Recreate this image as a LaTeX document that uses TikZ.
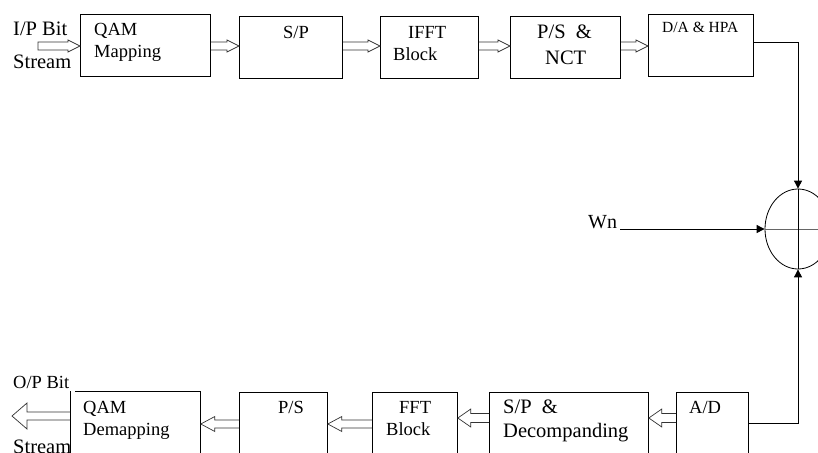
\documentclass[tikz,border=0pt]{standalone}
\usepackage{fontspec}
\setmainfont{Liberation Serif}
\usetikzlibrary{calc,arrows.meta,shapes.geometric}
\tikzset{
  blk/.style={draw=black, line width=0.8pt, anchor=north west, inner sep=0pt},
  lbl/.style={anchor=base west, inner sep=0pt, font=\fontsize{18.5}{22}\selectfont},
  lblbig/.style={anchor=base west, inner sep=0pt, font=\fontsize{20.5}{24}\selectfont},
  lblsmall/.style={anchor=base west, inner sep=0pt, font=\fontsize{15.5}{18}\selectfont},
  hol/.style={draw=black!80, line width=0.7pt, line join=miter},
  conn/.style={draw=black, line width=0.9pt, -{Triangle[length=8pt,width=8pt]}},
}
\newcommand\hollow[6]{%
  \coordinate (hA) at (#1); \coordinate (hZ) at (#2);
  \coordinate (hB) at ($(hZ)!#5!(hA)$);
  \draw[hol] ($(hA)!#3!90:(hZ)$) -- ($(hB)!#3!90:(hZ)$) -- ($(hB)!#4!90:(hZ)$) -- (hZ) -- ($(hB)!#4!-90:(hZ)$) -- ($(hB)!#3!-90:(hZ)$) -- ($(hA)!#3!-90:(hZ)$) #6;
}
\begin{document}
\begin{tikzpicture}[x=1pt,y=-1pt]
\clip (0,0) rectangle (818,452);
\fill[white] (0,0) rectangle (818,452);
% top row boxes
\node[blk, minimum width=130pt, minimum height=62pt] (qam) at (80,14) {};
\node[blk, minimum width=103pt, minimum height=62pt] (sp) at (239,16) {};
\node[blk, minimum width=98pt, minimum height=62pt] (ifft) at (380,16) {};
\node[blk, minimum width=110pt, minimum height=62pt] (psn) at (510,16) {};
\node[blk, minimum width=105pt, minimum height=62pt] (da) at (648,14) {};
% bottom row boxes
\node[blk, minimum width=130pt, minimum height=90pt] (qamd) at (70,391) {};
\node[blk, minimum width=88pt, minimum height=90pt] (ps) at (239,392) {};
\node[blk, minimum width=85pt, minimum height=90pt] (fft) at (372,392) {};
\node[blk, minimum width=159pt, minimum height=90pt] (spd) at (489,392) {};
\node[blk, minimum width=72pt, minimum height=90pt] (ad) at (676,392) {};
% summer
\node[draw=black, line width=0.8pt, ellipse, minimum width=66pt, minimum height=80pt, inner sep=0pt] (sum) at (798,229) {};
\draw[black!60, line width=0.8pt] (sum.west) -- (sum.east);
\draw[black, line width=0.8pt] (sum.north) -- (sum.south);
% labels
\node[lblbig] (t1) at (13,36) {I/P Bit};
\node[lblbig] (t2) at (13,68) {Stream};
\node[lbl] (t3) at (94,36) {QAM};
\node[lbl] (t4) at (94,57) {Mapping};
\node[lbl] (t5) at (283,38) {S/P};
\node[lbl] (t6) at (408,38) {IFFT};
\node[lbl] (t7) at (393,60) {Block};
\node[lblbig] (t8) at (537,39) {P/S\ \ \&};
\node[lblbig] (t9) at (545,64) {NCT};
\node[lblsmall] (t10) at (662,33) {D/A \& HPA};
\node[lblbig, font=\fontsize{20}{24}\selectfont] (t11) at (588,228) {Wn};
\node[lbl] (t12) at (13,388) {O/P Bit};
\node[lblbig] (t13) at (13,453) {Stream};
\node[lbl] (t14) at (83,413) {QAM};
\node[lbl] (t15) at (83,435) {Demapping};
\node[lbl] (t16) at (278,413) {P/S};
\node[lbl] (t17) at (399,413) {FFT};
\node[lbl] (t18) at (386,435) {Block};
\node[lblbig] (t19) at (503,413) {S/P\ \ \&};
\node[lblbig] (t20) at (503,437) {Decompanding};
\node[lbl] (t21) at (689,413) {A/D};
% redraw QAM Demapping box over "Stream"
\fill[white] (70.4,391.4) rectangle (75,452);
\draw[line width=0.8pt] (70,391) -- (70,452);
% hollow arrows top
\coordinate (ipin) at (38,46);
\hollow{ipin}{qam.west |- 0,46}{4pt}{6pt}{12pt}{-- cycle}
\hollow{qam.east |- 0,46}{sp.west |- 0,46}{4pt}{6pt}{12pt}{}
\hollow{sp.east |- 0,46}{ifft.west |- 0,46}{4pt}{6pt}{12pt}{}
\hollow{ifft.east |- 0,46}{psn.west |- 0,46}{4pt}{6pt}{12pt}{}
\hollow{psn.east |- 0,46}{da.west |- 0,46}{4pt}{6pt}{12pt}{}
% hollow arrows bottom
\hollow{ad.west |- 0,418}{spd.east |- 0,418}{4.5pt}{9pt}{13pt}{}
\hollow{spd.west |- 0,418}{fft.east |- 0,418}{4.5pt}{9pt}{13pt}{}
\hollow{fft.west |- 0,424}{ps.east |- 0,424}{4pt}{7.5pt}{14pt}{}
\hollow{ps.west |- 0,424}{qamd.east |- 0,424}{4pt}{7.5pt}{14pt}{}
\coordinate (opout) at (12,416);
\hollow{qamd.west |- 0,416}{opout}{4pt}{13pt}{15pt}{}
% connectors to summer
\draw[conn] (da.east |- 0,42) -| (sum.north);
\draw[conn] (ad.east |- 0,423) -| (sum.south);
\coordinate (wnin) at (620,229);
\draw[conn] (wnin) -- (sum.west);
\end{tikzpicture}
\end{document}
